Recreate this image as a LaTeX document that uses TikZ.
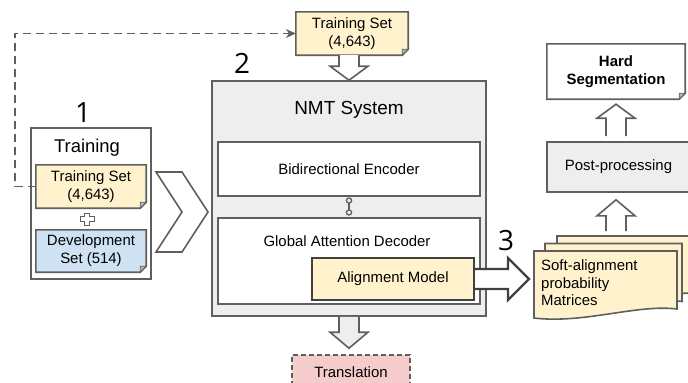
\documentclass[tikz,border=0pt]{standalone}
\usepackage{fontspec}
\setmainfont{Liberation Sans}
\newfontfamily\numfont{Open Sans}
\usetikzlibrary{calc,arrows.meta,backgrounds}

\definecolor{edge}{HTML}{5F5F5F}
\definecolor{darkedge}{HTML}{404040}
\definecolor{noteyellow}{HTML}{FFF2CC}
\definecolor{noteblue}{HTML}{CFE2F3}
\definecolor{notepink}{HTML}{F4CCCC}
\definecolor{panelgray}{HTML}{EEEEEE}
\definecolor{foldgray}{HTML}{B7B7B7}

\tikzset{
  txt/.style={font=\fontsize{15}{18}\selectfont, align=center, inner sep=0pt},
  box/.style={draw=edge, line width=1.6bp, inner sep=0pt},
  note/.style={txt},
  numlabel/.style={font=\numfont\fontsize{28}{28}\selectfont, inner sep=0pt},
  blockarrow/.style={draw=edge, line width=1.6bp, fill=white, line join=miter},
  docsheet/.style={fill=noteyellow, draw=edge, line width=1.6bp},
}

% note outline with a folded bottom-right corner, drawn behind node #1
\newcommand{\foldednote}[2]{%
  \path[fill=#2, draw=edge, line width=1.6bp]
    (#1.north west) -- (#1.north east) -- ([yshift=6bp]#1.south east)
    -- ([xshift=-6bp]#1.south east) -- (#1.south west) -- cycle;
  \path[fill=foldgray, draw=edge, line width=0.9bp]
    ([yshift=6bp]#1.south east) -- ([xshift=-6bp,yshift=6bp]#1.south east)
    -- ([xshift=-6bp]#1.south east) -- cycle;
}

% vertical block arrow: from #1 (shaft end) to tip #2, head length #3, fill #4
\newcommand{\vblock}[4]{%
  \draw[blockarrow, fill=#4] let \p1=(#1), \p2=(#2), \n1={sign(\y1-\y2)*#3} in
    ({\x2-10bp},{\y1}) -- ({\x2-10bp},{\y2+\n1}) -- ({\x2-19bp},{\y2+\n1})
    -- (\x2,\y2) -- ({\x2+19bp},{\y2+\n1}) -- ({\x2+10bp},{\y2+\n1})
    -- ({\x2+10bp},{\y1});
}

% stacked document sheet with a wavy lower edge: left, top, right
\newcommand{\docsheet}[3]{%
  \path[docsheet] (#1,#2) -- (#3,#2) -- (#3,#2+58)
    .. controls (#3-40,#2+53) and (#1+50,#2+73) .. (#1,#2+67) -- cycle;
}

\begin{document}
\begin{tikzpicture}[x=1bp,y=-1bp]
\useasboundingbox (0,0) rectangle (688,382);
\clip (0,0) rectangle (688,382);

% stage numbers
\node[numlabel] (n1) at (83,113) {1};
\node[numlabel] (n2) at (242,63) {2};
\node[numlabel] (n3) at (506,241) {3};

% ---- stage 1: training data ----
\begin{scope}[on background layer]
  \node[box, fill=white, minimum width=120bp, minimum height=151bp] (trainBox) at (91,203.5) {};
\end{scope}
\node[txt, font=\fontsize{18.5}{20}\selectfont] (trainTitle) at (87,148) {Training};
\node[note, minimum width=110bp, minimum height=43bp] (ts1) at (91,186.5) {Training Set\\(4,643)};
\node[note, minimum width=110bp, minimum height=42bp] (dev) at (91,251) {Development\\Set (514)};
\begin{scope}[on background layer]
  \foldednote{ts1}{noteyellow}
  \foldednote{dev}{noteblue}
\end{scope}

% outlined plus sign between the two data sets
\draw[edge, line width=1bp, fill=white]
  (84.5,213) -- (89.5,213) -- (89.5,216.5) -- (94,216.5) -- (94,221.5)
  -- (89.5,221.5) -- (89.5,225) -- (84.5,225) -- (84.5,221.5) -- (80,221.5)
  -- (80,216.5) -- (84.5,216.5) -- cycle;

% chevron into the NMT system
\draw[blockarrow] (156,172) -- (182,172) -- (208,212) -- (182,252)
  -- (156,252) -- (182,212) -- cycle;

% ---- stage 2: NMT system ----
\node[box, fill=panelgray, minimum width=274bp, minimum height=235bp] (nmt) at (349,198.5) {};
\node[txt, font=\fontsize{19}{20}\selectfont] (nmtTitle) at (349,110) {NMT System};
\node[box, txt, fill=white, minimum width=262bp, minimum height=54bp] (enc) at (349,169) {Bidirectional Encoder};
\node[box, fill=white, minimum width=262bp, minimum height=86bp] (dec) at (349,261) {};
\node[txt] (decLabel) at (347,241) {Global Attention Decoder};
\node[box, txt, draw=darkedge, line width=2.2bp, fill=noteyellow,
      minimum width=162bp, minimum height=42bp] (align) at (393,279) {Alignment Model};
\draw[edge, line width=1.3bp,
      {Circle[open,length=6.5bp,width=6.5bp]}-{Circle[open,length=6.5bp,width=6.5bp]},
      shorten <=0.5bp, shorten >=1.5bp] (enc.south) -- (dec.north);

% training set fed back to the NMT system
\node[note, minimum width=112bp, minimum height=43bp] (tsTop) at (352,33.5) {Training Set\\(4,643)};
\begin{scope}[on background layer]
  \foldednote{tsTop}{noteyellow}
\end{scope}
\coordinate (dashX) at (15,0);
\draw[edge, line width=1.9bp, dash pattern=on 8bp off 5bp,
      -{Stealth[length=10bp,width=9bp]}]
  (ts1.west) -- (ts1.west -| dashX) -- (dashX |- tsTop.west) -- (tsTop.west);

\vblock{tsTop.south}{nmt.north}{14bp}{white}

% translation output
\node[txt, draw=edge, line width=1.6bp, dash pattern=on 5bp off 3bp, fill=notepink,
      minimum width=118bp, minimum height=34bp] (trans) at (351,372) {Translation};
\coordinate (transTip) at ($(trans.north)+(-2,-6)$);
\vblock{nmt.south}{transTip}{16bp}{panelgray}

% ---- stage 3: soft alignments and post-processing ----
\node[inner sep=0pt, minimum width=143bp, minimum height=67bp, anchor=north west] (soft) at (534,251) {};
\docsheet{557}{236}{700}
\docsheet{545}{243.5}{682}
\docsheet{534}{251}{677}
\node[txt, align=left, font=\fontsize{15}{17.5}\selectfont, anchor=west] (softText) at (541,283)
  {Soft-alignment\\probability\\Matrices};

\coordinate (alignTip) at ($(soft.west |- align.east)+(-5,0)$);
\draw[blockarrow, draw=darkedge, line width=2.2bp]
  let \p1=(align.east), \p2=(alignTip) in
  (\x1,{\y1+10bp}) -- ({\x2-21bp},{\y1+10bp}) -- ({\x2-21bp},{\y1+21bp})
  -- (\x2,\y1) -- ({\x2-21bp},{\y1-21bp}) -- ({\x2-21bp},{\y1-10bp})
  -- (\x1,{\y1-10bp});

\node[box, txt, fill=panelgray, minimum width=143bp, minimum height=50bp] (post) at (618.5,167) {Post-processing};
\node[note, font=\bfseries\fontsize{15}{18}\selectfont,
      minimum width=138bp, minimum height=55bp] (hard) at (616,71.5) {Hard\\Segmentation};
\begin{scope}[on background layer]
  \foldednote{hard}{white}
\end{scope}

\coordinate (softTop) at (616,231);
\coordinate (postTip) at ($(post.south -| softTop)+(0,7)$);
\vblock{softTop}{postTip}{16bp}{white}
\coordinate (postTop) at ($(post.north -| softTop)+(0,-5)$);
\coordinate (hardTip) at ($(hard.south -| softTop)+(0,5)$);
\vblock{postTop}{hardTip}{14bp}{white}

\end{tikzpicture}
\end{document}
